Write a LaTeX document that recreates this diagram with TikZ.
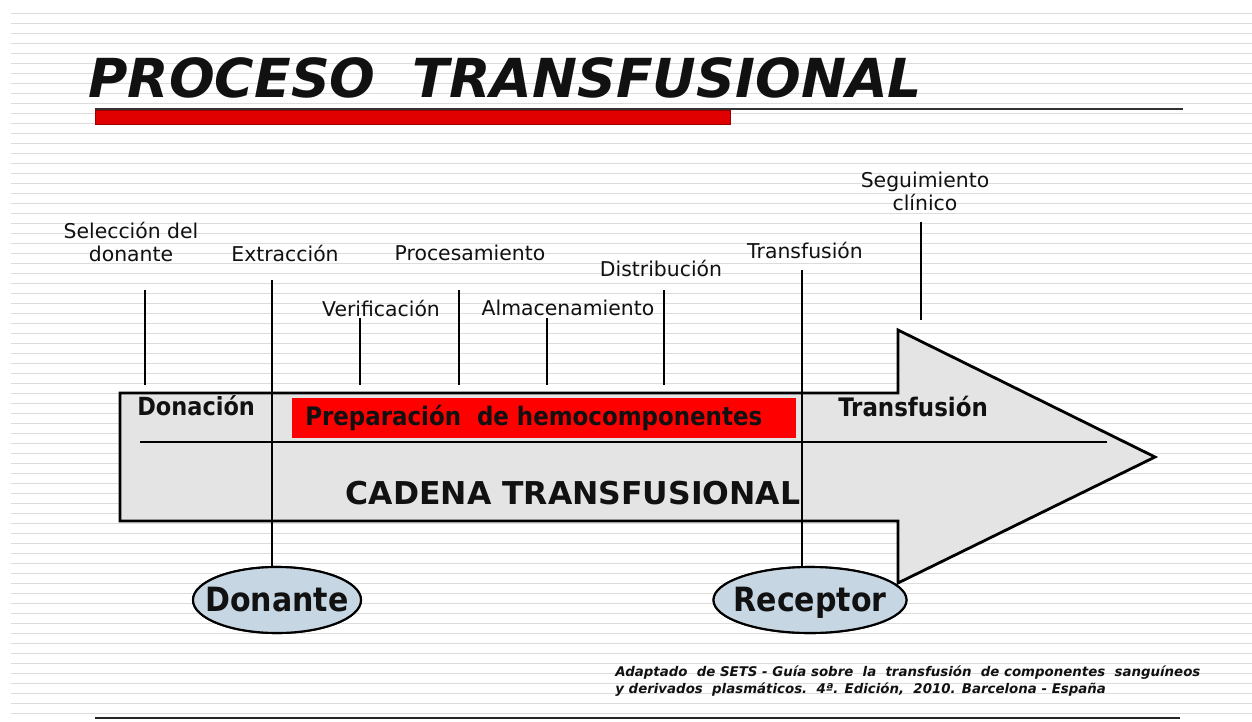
\documentclass[tikz,border=0pt]{standalone}
\usepackage{fontspec}
\setmainfont{DejaVu Sans}
\newfontfamily\condf{DejaVu Sans Condensed}
\usetikzlibrary{shapes.geometric}
\definecolor{stripegray}{HTML}{DCDCDC}
\definecolor{arrowgray}{HTML}{E4E4E4}
\definecolor{ellblue}{HTML}{C6D6E3}
\definecolor{barred}{HTML}{E00000}
\definecolor{boxred}{HTML}{FF0000}
\definecolor{inkc}{HTML}{111111}
\tikzset{
  stripe/.style={draw=stripegray, line width=0.8pt},
  steplabel/.style={font=\fontsize{11.6}{13}\selectfont, text=inkc, align=center, inner sep=0pt},
  tick/.style={draw=black, line width=1pt},
  boldlabel/.style={font=\condf\bfseries\fontsize{14.5}{16}\selectfont, text=inkc, inner sep=0pt},
  person/.style={ellipse, draw=black, line width=1.2pt, fill=ellblue, minimum width=168*0.02cm, minimum height=66*0.02cm, inner sep=0pt},
  persontext/.style={inner sep=0pt, anchor=base, font=\condf\bfseries\fontsize{19}{21}\selectfont, text=inkc},
}
\begin{document}
\begin{tikzpicture}[x=0.02cm,y=-0.02cm]
\useasboundingbox (0,0) rectangle (1252,721);
\fill[white] (0,0) rectangle (1252,721);
\foreach \i in {0,...,70} { \draw[stripe] (11,13.3+10*\i) -- (1252,13.3+10*\i); }
% title
\node[anchor=base west, inner sep=0pt, font=\bfseries\itshape\fontsize{30.6}{34}\selectfont, text=inkc] (title) at (88,97) {PROCESO\ \ TRANSFUSIONAL};
\draw[line width=1.1pt, black!80] (95,109) -- (1183,109);
\node[draw=red!60!black, fill=barred, line width=0.5pt, minimum width=635*0.02cm, minimum height=14*0.02cm, inner sep=0pt, anchor=north west] (bar) at (95,110) {};
% arrow
\draw[line width=1.6pt, fill=arrowgray, line join=miter] (120,393) -- (898,393) -- (898,330) -- (1155,457) -- (898,583) -- (898,521) -- (120,521) -- cycle;
\coordinate (midl) at (140,442);
\coordinate (midr) at (1107,442);
\draw[line width=1.1pt] (midl) -- (midr);
\node[fill=boxred, minimum width=504*0.02cm, minimum height=40*0.02cm, inner sep=0pt, anchor=north west] (prep) at (292,398) {};
\node[boldlabel, anchor=west] (preptext) at (305,418) {Preparación\ \ de hemocomponentes};
\node[boldlabel, font=\condf\bfseries\fontsize{14.2}{16}\selectfont, anchor=west] (donacion) at (137,406) {Donación};
\node[boldlabel, anchor=west] (transf) at (838,406) {Transfusión};
\node[anchor=center, inner sep=0pt, font=\bfseries\fontsize{17.9}{20}\selectfont, text=inkc] (cadena) at (573,493) {CADENA TRANSFUSIONAL};
% labels
\node[steplabel] (sel) at (131,242) {Selección del\\donante};
\node[steplabel] (ext) at (285,253) {Extracción};
\node[steplabel] (proc) at (470,253) {Procesamiento};
\node[steplabel] (ver) at (381,308) {Verificación};
\node[steplabel] (alm) at (568,308) {Almacenamiento};
\node[steplabel] (dist) at (661,268) {Distribución};
\node[steplabel] (trl) at (805,250) {Transfusión};
\node[steplabel] (seg) at (925,191) {Seguimiento\\clínico};
% persons
\node[person] (donante) at (277,600) {};
\node[person, minimum width=193*0.02cm] (receptor) at (810,600) {};
% ticks
\coordinate (t1a) at (145,290); \coordinate (t1b) at (145,385);
\coordinate (t2a) at (272,280);
\coordinate (t3a) at (360,318); \coordinate (t3b) at (360,385);
\coordinate (t4a) at (459,290); \coordinate (t4b) at (459,385);
\coordinate (t5a) at (547,318); \coordinate (t5b) at (547,385);
\coordinate (t6a) at (664,290); \coordinate (t6b) at (664,385);
\coordinate (t7a) at (802,270);
\coordinate (t8a) at (921,222); \coordinate (t8b) at (921,320);
\draw[tick] (t1a) -- (t1b);
\draw[tick] (t2a) -- (t2a |- donante.north);
\draw[tick] (t3a) -- (t3b);
\draw[tick] (t4a) -- (t4b);
\draw[tick] (t5a) -- (t5b);
\draw[tick] (t6a) -- (t6b);
\draw[tick] (t7a) -- (t7a |- receptor.north);
\draw[tick] (t8a) -- (t8b);
% redraw ellipses on top, with texts
\node[person] at (donante) {};
\node[person, minimum width=193*0.02cm] at (receptor) {};
\node[persontext] (dontext) at (277,611) {Donante};
\node[persontext] (rectext) at (810,611) {Receptor};
% footnote
\node[anchor=north west, align=left, inner sep=0pt, font=\bfseries\itshape\fontsize{7.6}{10.2}\selectfont, text=inkc] (foot) at (615,665) {Adaptado\ \ de SETS - Guía sobre\ \ la\ \ transfusión\ \ de componentes\ \ sanguíneos\\y derivados\ \ plasmáticos.\ \ 4ª. Edición,\ \ 2010. Barcelona - España};
\coordinate (bl) at (95,718); \coordinate (br) at (1180,718);
\draw[line width=1.6pt, black!85] (bl) -- (br);
\end{tikzpicture}
\end{document}
